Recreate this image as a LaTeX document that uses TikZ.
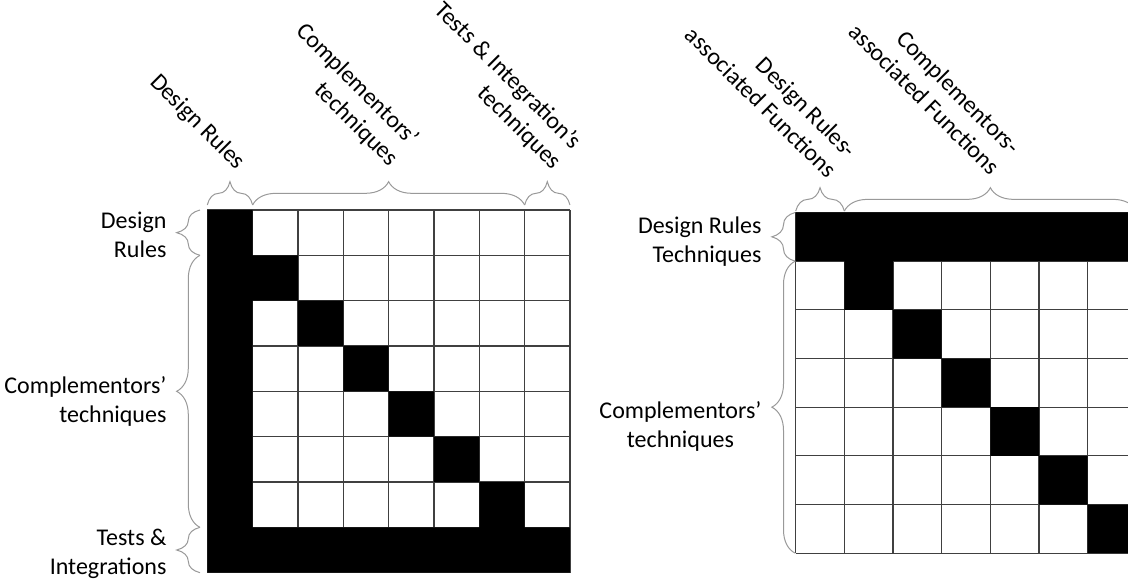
\documentclass[tikz,border=0pt]{standalone}
\usepackage{fontspec}
\setmainfont{Carlito}
\usetikzlibrary{decorations.pathreplacing}
\tikzstyle{gridln} = [draw=black!75, line width=0.9pt]
\tikzstyle{blk} = [fill=black]
\tikzstyle{sidelbl} = [anchor=east, align=right, inner sep=0pt, font=\fontsize{18}{21.6}\selectfont]
\tikzstyle{toplbl} = [rotate=-45, anchor=south east, align=right, inner sep=0pt, font=\fontsize{18}{21.6}\selectfont]
\tikzset{brc/.style={decorate, decoration={brace, amplitude=17.5pt, raise=#1}, draw=black!40, line width=0.75pt}}

\begin{document}
\begin{tikzpicture}[x=0.75pt, y=0.75pt]
    \path[use as bounding box, clip] (0,0) rectangle (1128,579);
    % left matrix
    \begin{scope}[shift={(207.3,369)}, x=34pt, y=34pt]
        \draw[gridln, step=1] (0,0) grid (8,-8);
        \fill[blk] (0,0) rectangle (1,-8) (1,-7) rectangle (8,-8)
            (1,-1) rectangle (2,-2) (2,-2) rectangle (3,-3) (3,-3) rectangle (4,-4)
            (4,-4) rectangle (5,-5) (5,-5) rectangle (6,-6) (6,-6) rectangle (7,-7);
        \draw[brc=3.75pt] (0,0) -- (1,0);
        \draw[brc=3.75pt] (1,0) -- (7,0);
        \draw[brc=3.75pt] (7,0) -- (8,0);
        \draw[brc=5.5pt] (0,-1) -- (0,0);
        \draw[brc=5.5pt] (0,-7) -- (0,-1);
        \draw[brc=5.5pt] (0,-8) -- (0,-7);
    \end{scope}
    % right matrix
    \begin{scope}[shift={(795.7,366.5)}, x=36.5pt, y=36.5pt]
        \draw[gridln, step=1] (0,0) grid (7,-7);
        \fill[blk] (0,0) rectangle (7,-1)
            (1,-1) rectangle (2,-2) (2,-2) rectangle (3,-3) (3,-3) rectangle (4,-4)
            (4,-4) rectangle (5,-5) (5,-5) rectangle (6,-6) (6,-6) rectangle (7,-7);
        \draw[brc=1.1pt] (0,0) -- (1,0);
        \draw[brc=1.1pt] (1,0) -- (7,0);
        \draw[brc=0.4pt] (0,-1) -- (0,0);
        \draw[brc=0.4pt] (0,-7) -- (0,-1);
    \end{scope}
    % row labels
    \node[sidelbl] (lDR) at (166.7,344.1) {Design\\Rules};
    \node[sidelbl] (lCT) at (166.7,177.2) {Complementors'\\techniques};
    \node[sidelbl] (lTI) at (166.7,25) {Tests \&\\Integrations};
    \node[sidelbl] (rDR) at (761.7,337.5) {Design Rules\\Techniques};
    \node[sidelbl, align=center] (rCT) at (761.7,152.2) {Complementors'\\techniques};
    % column labels
    \node[toplbl] (tDR) at (233.4,405.4) {Design Rules};
    \node[toplbl] (tCT) at (386.5,408.8) {Complementors'\\techniques};
    \node[toplbl] (tTI) at (549.5,405.4) {Tests \& Integration's\\techniques};
    \node[toplbl] (tRF) at (826.7,399) {Design Rules-\\associated Functions};
    \node[toplbl] (tCF) at (990,402.3) {Complementors-\\associated Functions};
\end{tikzpicture}
\end{document}
